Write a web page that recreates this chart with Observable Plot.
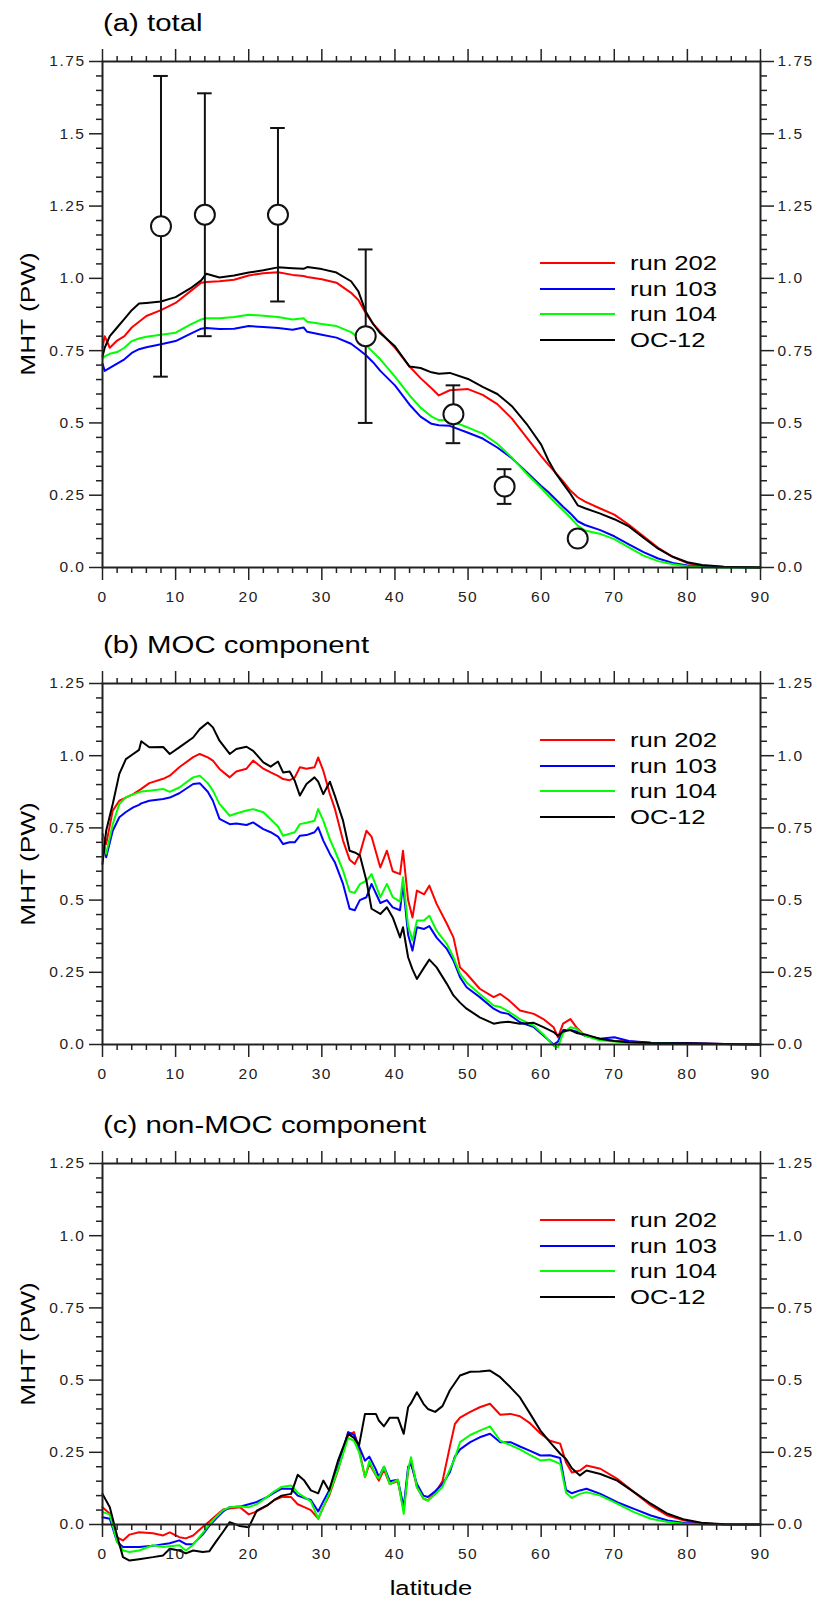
<!DOCTYPE html>
<html>
<head>
<meta charset="utf-8">
<script src="https://cdn.jsdelivr.net/npm/d3@7"></script>
<script src="https://cdn.jsdelivr.net/npm/@observablehq/plot@0.6"></script>
<style>
  body { margin: 0; background: #fff; }
  #wrap { position: relative; width: 819px; height: 1602px; overflow: hidden;
          font-family: "Liberation Sans", Arial, Helvetica, sans-serif; color: #000; }
  .panel { position: absolute; left: 0; }
  .panel svg { overflow: visible; }
  .t { position: absolute; white-space: nowrap; line-height: 1;
       transform-origin: 0 50%; transform: translateY(-50%) scaleX(1.25); }
  .c { position: absolute; white-space: nowrap; line-height: 1;
       transform: translate(-50%, -50%) scaleX(1.25); }
  .r { position: absolute; white-space: nowrap; line-height: 1;
       transform: translate(-50%, -50%) rotate(-90deg) scaleX(1.25); }
  .key { position: absolute; height: 2px; }
</style>
</head>
<body>
<div id="wrap"></div>
<script>
// ---------- series identity ----------
const seriesNames  = ["run 202", "run 103", "run 104", "OC-12"];
const seriesColors = ["#ff0000", "#0000ff", "#00ff00", "#000000"];

// ---------- ticks ----------
const xMajor = [0, 10, 20, 30, 40, 50, 60, 70, 80, 90];
const xMajorLabels = ["0", "10", "20", "30", "40", "50", "60", "70", "80", "90"];
const xMinor = [2, 4, 6, 8, 12, 14, 16, 18, 22, 24, 26, 28, 32, 34, 36, 38, 42, 44, 46, 48,
                52, 54, 56, 58, 62, 64, 66, 68, 72, 74, 76, 78, 82, 84, 86, 88];
const yMajorA = [0, 0.25, 0.5, 0.75, 1.0, 1.25, 1.5, 1.75];
const yLabelsA = ["0.0", "0.25", "0.5", "0.75", "1.0", "1.25", "1.5", "1.75"];
const yMinorA = [0.05, 0.1, 0.15, 0.2, 0.3, 0.35, 0.4, 0.45, 0.55, 0.6, 0.65, 0.7,
                 0.8, 0.85, 0.9, 0.95, 1.05, 1.1, 1.15, 1.2, 1.3, 1.35, 1.4, 1.45,
                 1.55, 1.6, 1.65, 1.7];
const yMajorBC = [0, 0.25, 0.5, 0.75, 1.0, 1.25];
const yLabelsBC = ["0.0", "0.25", "0.5", "0.75", "1.0", "1.25"];
const yMinorBC = [0.05, 0.1, 0.15, 0.2, 0.3, 0.35, 0.4, 0.45, 0.55, 0.6, 0.65, 0.7,
                  0.8, 0.85, 0.9, 0.95, 1.05, 1.1, 1.15, 1.2];

// ---------- (a) total ----------
const latA = [0, 0.3, 1, 2, 3, 4, 5, 6, 8, 10,
  12, 13.5, 14.2, 16, 18, 20, 22, 24, 26, 27.5,
  28, 30, 32, 34, 35, 36, 37, 38, 40, 42,
  43.5, 45, 46, 47.5, 50, 52, 54, 56, 58, 60,
  61, 62, 63, 64, 65, 66, 68, 70, 72, 74,
  76, 78, 80, 82, 85, 90];
const totRun202 = [0.76, 0.80, 0.76, 0.785, 0.80, 0.83, 0.85, 0.87, 0.89, 0.915,
  0.955, 0.985, 0.987, 0.99, 0.995, 1.01, 1.018, 1.021, 1.012, 1.008,
  1.005, 0.997, 0.985, 0.95, 0.925, 0.88, 0.843, 0.815, 0.76, 0.695,
  0.655, 0.62, 0.595, 0.613, 0.617, 0.597, 0.565, 0.515, 0.45, 0.385,
  0.355, 0.327, 0.298, 0.266, 0.243, 0.228, 0.205, 0.183, 0.148, 0.108,
  0.068, 0.037, 0.015, 0.006, 0.002, 0];
const totRun103 = [0.705, 0.68, 0.69, 0.705, 0.72, 0.742, 0.755, 0.762, 0.772, 0.783,
  0.808, 0.826, 0.828, 0.825, 0.826, 0.835, 0.832, 0.828, 0.822, 0.83,
  0.815, 0.805, 0.795, 0.774, 0.755, 0.735, 0.71, 0.68, 0.63, 0.563,
  0.522, 0.497, 0.492, 0.49, 0.466, 0.446, 0.415, 0.378, 0.33, 0.282,
  0.26, 0.235, 0.21, 0.187, 0.16, 0.147, 0.13, 0.108, 0.08, 0.053,
  0.031, 0.016, 0.007, 0.003, 0.001, 0];
const totRun104 = [0.722, 0.73, 0.739, 0.745, 0.76, 0.783, 0.792, 0.798, 0.805, 0.812,
  0.84, 0.858, 0.862, 0.862, 0.866, 0.874, 0.871, 0.866, 0.858, 0.862,
  0.85, 0.842, 0.835, 0.814, 0.795, 0.77, 0.745, 0.72, 0.66, 0.595,
  0.553, 0.522, 0.51, 0.508, 0.484, 0.463, 0.428, 0.38, 0.325, 0.275,
  0.248, 0.222, 0.198, 0.173, 0.145, 0.128, 0.117, 0.098, 0.07, 0.041,
  0.022, 0.011, 0.004, 0.001, 0, 0];
const totOC12 = [0.73, 0.76, 0.80, 0.83, 0.86, 0.89, 0.913, 0.915, 0.92, 0.935,
  0.965, 0.993, 1.016, 1.003, 1.01, 1.02, 1.028, 1.038, 1.035, 1.033,
  1.039, 1.032, 1.02, 0.99, 0.955, 0.885, 0.843, 0.81, 0.765, 0.695,
  0.69, 0.675, 0.67, 0.673, 0.652, 0.625, 0.60, 0.558, 0.497, 0.425,
  0.37, 0.325, 0.29, 0.255, 0.215, 0.205, 0.187, 0.167, 0.142, 0.103,
  0.065, 0.037, 0.018, 0.009, 0.003, 0];

// observational estimates (panel a)
const obsLat = [8, 14, 24, 36, 48, 55, 65];
const obsVal = [1.18, 1.22, 1.22, 0.80, 0.53, 0.28, 0.10];
const obsLo  = [0.66, 0.80, 0.92, 0.50, 0.43, 0.22, null];
const obsHi  = [1.70, 1.64, 1.52, 1.10, 0.63, 0.34, null];

// ---------- (b) MOC component ----------
const latB = [0, 0.5, 1.4, 2.3, 3.2, 4.2, 5, 5.3, 6.4, 8.3,
  9.2, 10.5, 12.4, 13.3, 14.4, 15.1, 16, 17.4, 18.3, 19.7,
  20.6, 22, 23, 24, 24.7, 25.6, 26.3, 27, 27.9, 29,
  29.5, 30.2, 31.1, 31.8, 32.9, 33.8, 34.5, 35.2, 36.1, 36.8,
  38, 38.9, 39.7, 40.7, 41.1, 41.8, 42.4, 43, 44, 44.7,
  45.7, 47.1, 48, 48.9, 49.8, 51.6, 53.5, 54.4, 55.5, 57.1,
  59, 60.3, 61.7, 62.3, 63, 64, 64.8, 66, 68, 70,
  72, 75, 80, 85, 90];
const mocRun202 = [0.729, 0.694, 0.81, 0.844, 0.855, 0.867, 0.88, 0.885, 0.905, 0.92,
  0.931, 0.96, 0.995, 1.006, 0.994, 0.983, 0.954, 0.925, 0.945, 0.955,
  0.983, 0.955, 0.942, 0.93, 0.919, 0.915, 0.925, 0.96, 0.955, 0.96,
  0.994, 0.948, 0.867, 0.815, 0.706, 0.64, 0.625, 0.66, 0.74, 0.72,
  0.613, 0.671, 0.6, 0.59, 0.671, 0.5, 0.44, 0.533, 0.52, 0.55,
  0.487, 0.418, 0.371, 0.267, 0.245, 0.193, 0.164, 0.175, 0.155, 0.118,
  0.106, 0.088, 0.06, 0.025, 0.072, 0.088, 0.06, 0.03, 0.02, 0.012,
  0.01, 0.006, 0.004, 0.002, 0];
const mocRun103 = [0.712, 0.648, 0.74, 0.787, 0.805, 0.821, 0.83, 0.835, 0.844, 0.85,
  0.855, 0.87, 0.902, 0.905, 0.875, 0.844, 0.781, 0.763, 0.765, 0.76,
  0.769, 0.746, 0.735, 0.72, 0.694, 0.7, 0.7, 0.723, 0.725, 0.735,
  0.752, 0.706, 0.66, 0.63, 0.556, 0.47, 0.465, 0.5, 0.51, 0.556,
  0.49, 0.5, 0.475, 0.465, 0.556, 0.38, 0.325, 0.406, 0.4, 0.41,
  0.37, 0.331, 0.291, 0.233, 0.198, 0.164, 0.124, 0.112, 0.106, 0.077,
  0.06, 0.031, 0.0, 0.01, 0.05, 0.05, 0.045, 0.03, 0.02, 0.025,
  0.012, 0.006, 0.004, 0.002, 0];
const mocRun104 = [0.72, 0.66, 0.763, 0.833, 0.856, 0.866, 0.873, 0.876, 0.879, 0.885,
  0.875, 0.89, 0.925, 0.931, 0.905, 0.879, 0.833, 0.792, 0.8, 0.81,
  0.815, 0.804, 0.78, 0.755, 0.723, 0.73, 0.735, 0.763, 0.768, 0.775,
  0.815, 0.775, 0.71, 0.67, 0.602, 0.53, 0.525, 0.555, 0.567, 0.59,
  0.51, 0.556, 0.51, 0.495, 0.579, 0.41, 0.36, 0.429, 0.43, 0.446,
  0.394, 0.348, 0.302, 0.245, 0.215, 0.175, 0.135, 0.13, 0.115, 0.088,
  0.065, 0.035, -0.005, -0.01, 0.04, 0.06, 0.055, 0.03, 0.015, 0.01,
  0.007, 0.004, 0.002, 0.001, 0];
const mocOC12 = [0.625, 0.74, 0.833, 0.937, 0.988, 1.006, 1.02, 1.05, 1.029, 1.03,
  1.006, 1.029, 1.063, 1.092, 1.115, 1.098, 1.052, 1.006, 1.023, 1.031,
  1.017, 0.977, 0.962, 0.98, 0.942, 0.945, 0.913, 0.862, 0.902, 0.925,
  0.91, 0.867, 0.91, 0.86, 0.775, 0.671, 0.665, 0.655, 0.567, 0.47,
  0.452, 0.475, 0.44, 0.371, 0.406, 0.302, 0.26, 0.227, 0.267, 0.294,
  0.267, 0.21, 0.17, 0.145, 0.124, 0.094, 0.072, 0.076, 0.079, 0.072,
  0.075, 0.06, 0.043, 0.03, 0.045, 0.05, 0.04, 0.035, 0.02, 0.012,
  0.008, 0.005, 0.004, 0.002, 0];

// ---------- (c) non-MOC component ----------
const latC = [0, 1, 2, 2.8, 3.7, 5, 6.9, 8.3, 9.2, 10.5,
  11.4, 12.4, 13.7, 14.6, 15.5, 16.5, 17.4, 18.8, 20, 21.1,
  22.5, 23.5, 24.5, 25.8, 26.7, 27.6, 28.5, 29.5, 30.2, 31,
  32.2, 33.6, 34.4, 35.1, 35.9, 36.5, 37.4, 37.8, 38.5, 39.3,
  40.4, 41.2, 41.8, 42.2, 43, 43.9, 44.5, 45.5, 46.5, 47.5,
  48.2, 48.9, 50.3, 51.6, 53, 54.4, 55.8, 57.1, 58.5, 59.9,
  61.2, 62.6, 63.4, 64.2, 65.3, 66.2, 68.1, 70.4, 72.7, 75,
  77.3, 79.6, 81.9, 85, 90];
const nonRun202 = [0.06, 0.037, -0.045, -0.055, -0.035, -0.027, -0.03, -0.038, -0.027, -0.044,
  -0.048, -0.038, -0.009, 0.01, 0.03, 0.052, 0.055, 0.06, 0.035, 0.045,
  0.065, 0.085, 0.095, 0.095, 0.07, 0.06, 0.05, 0.02, 0.06, 0.1,
  0.187, 0.31, 0.32, 0.26, 0.164, 0.21, 0.17, 0.152, 0.19, 0.14,
  0.15, 0.048, 0.187, 0.22, 0.13, 0.09, 0.083, 0.11, 0.15, 0.268,
  0.348, 0.37, 0.39, 0.406, 0.418, 0.38, 0.383, 0.375, 0.35, 0.315,
  0.29, 0.28, 0.215, 0.18, 0.187, 0.204, 0.193, 0.158, 0.112, 0.066,
  0.031, 0.014, 0.004, 0, 0];
const nonRun103 = [0.025, 0.02, -0.06, -0.078, -0.078, -0.078, -0.074, -0.068, -0.065, -0.055,
  -0.068, -0.068, -0.035, -0.005, 0.02, 0.045, 0.06, 0.062, 0.07, 0.078,
  0.095, 0.11, 0.124, 0.124, 0.1, 0.092, 0.085, 0.045, 0.08, 0.118,
  0.198, 0.32, 0.31, 0.27, 0.221, 0.235, 0.19, 0.164, 0.2, 0.15,
  0.155, 0.06, 0.2, 0.21, 0.14, 0.1, 0.095, 0.115, 0.14, 0.18,
  0.235, 0.26, 0.285, 0.302, 0.314, 0.285, 0.285, 0.27, 0.255, 0.239,
  0.24, 0.23, 0.12, 0.108, 0.118, 0.124, 0.106, 0.077, 0.054, 0.031,
  0.014, 0.005, 0.002, 0, 0];
const nonRun104 = [0.043, 0.035, -0.06, -0.09, -0.095, -0.09, -0.072, -0.078, -0.075, -0.072,
  -0.09, -0.07, -0.03, 0.0, 0.025, 0.05, 0.06, 0.062, 0.06, 0.07,
  0.095, 0.115, 0.13, 0.135, 0.11, 0.095, 0.08, 0.02, 0.06, 0.106,
  0.19, 0.3, 0.29, 0.25, 0.164, 0.22, 0.17, 0.16, 0.2, 0.14,
  0.155, 0.037, 0.19, 0.233, 0.13, 0.09, 0.083, 0.105, 0.13, 0.19,
  0.23, 0.285, 0.31, 0.325, 0.34, 0.29, 0.275, 0.26, 0.24, 0.222,
  0.225, 0.21, 0.11, 0.092, 0.106, 0.112, 0.1, 0.072, 0.043, 0.02,
  0.009, 0.003, 0.001, 0, 0];
const nonOC12 = [0.106, 0.06, -0.04, -0.113, -0.125, -0.12, -0.113, -0.107, -0.084, -0.09,
  -0.1, -0.09, -0.095, -0.093, -0.06, -0.025, 0.008, -0.005, -0.01, 0.048,
  0.066, 0.085, 0.1, 0.106, 0.172, 0.152, 0.118, 0.108, 0.152, 0.118,
  0.22, 0.314, 0.3, 0.275, 0.383, 0.383, 0.383, 0.36, 0.34, 0.37,
  0.37, 0.314, 0.406, 0.42, 0.458, 0.418, 0.4, 0.39, 0.41, 0.464,
  0.49, 0.516, 0.529, 0.53, 0.533, 0.51, 0.475, 0.44, 0.383, 0.325,
  0.285, 0.245, 0.227, 0.195, 0.17, 0.187, 0.175, 0.152, 0.112, 0.072,
  0.037, 0.017, 0.006, 0.001, 0];

// ---------- layout ----------
const W = 819, ML = 102, MR = 59;
const INK = "#222";

const panels = [
  { title: "(a) total", lat: latA, series: [totRun202, totRun103, totRun104, totOC12],
    yMax: 1.75, yTicks: yMajorA, yLabels: yLabelsA, yMinor: yMinorA,
    top: 0, height: 612, mt: 61, mb: 45, legendTop: 263, obs: true },
  { title: "(b) MOC component", lat: latB, series: [mocRun202, mocRun103, mocRun104, mocOC12],
    yMax: 1.25, yTicks: yMajorBC, yLabels: yLabelsBC, yMinor: yMinorBC,
    top: 640, height: 449, mt: 43, mb: 45, legendTop: 740, obs: false },
  { title: "(c) non-MOC component", lat: latC, series: [nonRun202, nonRun103, nonRun104, nonOC12],
    yMax: 1.25, yTicks: yMajorBC, yLabels: yLabelsBC, yMinor: yMinorBC,
    top: 1120, height: 482, mt: 43, mb: 78, legendTop: 1220, obs: false }
];

const wrap = document.getElementById("wrap");
const xFmt = new Map(xMajor.map((t, i) => [t, xMajorLabels[i]]));
const blank = () => "";

function addText(cls, txt, left, top, size) {
  const d = document.createElement("div");
  d.className = cls;
  d.textContent = txt;
  d.style.left = left + "px";
  d.style.top = top + "px";
  d.style.fontSize = size + "px";
  wrap.appendChild(d);
  return d;
}

panels.forEach((p) => {
  const yFmt = new Map(p.yTicks.map((t, i) => [t, p.yLabels[i]]));
  const lineMarks = p.series.map((vals, k) =>
    Plot.line(p.lat.map((x, i) => ({ lat: x, v: vals[i] })),
      { x: "lat", y: "v", stroke: seriesColors[k], strokeWidth: 2, strokeLinejoin: "round" }));

  const obsMarks = [];
  if (p.obs) {
    const obsRows = obsLat.map((x, i) => ({ lat: x, v: obsVal[i], lo: obsLo[i], hi: obsHi[i] }));
    const withErr = obsRows.filter(d => d.lo != null);
    const capHalf = 1.0;
    obsMarks.push(
      Plot.ruleX(withErr, { x: "lat", y1: "lo", y2: "hi", stroke: "#111", strokeWidth: 2 }),
      Plot.ruleY(withErr, { y: "hi", x1: d => d.lat - capHalf, x2: d => d.lat + capHalf, stroke: "#111", strokeWidth: 2 }),
      Plot.ruleY(withErr, { y: "lo", x1: d => d.lat - capHalf, x2: d => d.lat + capHalf, stroke: "#111", strokeWidth: 2 }),
      Plot.dot(obsRows, { x: "lat", y: "v", r: 10, fill: "white", stroke: "#111", strokeWidth: 2 })
    );
  }

  const axisCommon = { label: null, stroke: INK, strokeWidth: 1.5, fill: INK };
  const chart = Plot.plot({
    width: W, height: p.height,
    marginLeft: ML, marginRight: MR, marginTop: p.mt, marginBottom: p.mb,
    x: { domain: [0, 90], label: null },
    y: { domain: [0, p.yMax], label: null },
    style: { fontFamily: "'Liberation Sans', Arial, Helvetica, sans-serif", fontSize: "15.5px",
             letterSpacing: "1.5px", background: "transparent", overflow: "visible", color: INK },
    marks: [
      ...lineMarks,
      Plot.frame({ stroke: INK, strokeWidth: 2 }),
      ...obsMarks,
      Plot.axisY({ ...axisCommon, ticks: p.yTicks, anchor: "left", tickSize: 13, tickPadding: 4, tickFormat: d => yFmt.get(d) }),
      Plot.axisY({ ...axisCommon, ticks: p.yMinor, anchor: "left", tickSize: 6, tickFormat: blank }),
      Plot.axisY({ ...axisCommon, ticks: p.yTicks, anchor: "right", tickSize: 13, tickPadding: 4, tickFormat: d => yFmt.get(d) }),
      Plot.axisY({ ...axisCommon, ticks: p.yMinor, anchor: "right", tickSize: 6, tickFormat: blank }),
      Plot.axisX({ ...axisCommon, ticks: xMajor, anchor: "bottom", tickSize: 13, tickPadding: 10, tickFormat: d => xFmt.get(d) }),
      Plot.axisX({ ...axisCommon, ticks: xMinor, anchor: "bottom", tickSize: 6, tickFormat: blank }),
      Plot.axisX({ ...axisCommon, ticks: xMajor, anchor: "top", tickSize: 13, tickFormat: blank }),
      Plot.axisX({ ...axisCommon, ticks: xMinor, anchor: "top", tickSize: 6, tickFormat: blank })
    ]
  });

  const holder = document.createElement("div");
  holder.className = "panel";
  holder.style.top = p.top + "px";
  holder.appendChild(chart);
  wrap.appendChild(holder);

  const frameTop = p.top + p.mt;
  const frameBottom = p.top + p.height - p.mb;
  addText("t", p.title, 103, frameTop - 37, 23.5);
  addText("r", "MHT (PW)", 27, (frameTop + frameBottom) / 2, 21);

  seriesNames.forEach((name, k) => {
    const yy = Math.round(p.legendTop + k * 25.5);
    const key = document.createElement("div");
    key.className = "key";
    key.style.left = "540px";
    key.style.width = "75px";
    key.style.top = (yy - 1) + "px";
    key.style.background = seriesColors[k];
    wrap.appendChild(key);
    addText("t", name, 630, yy, 20.5);
  });
});

addText("c", "latitude", (ML + (W - MR)) / 2, 1588, 20.5);
</script>
</body>
</html>
